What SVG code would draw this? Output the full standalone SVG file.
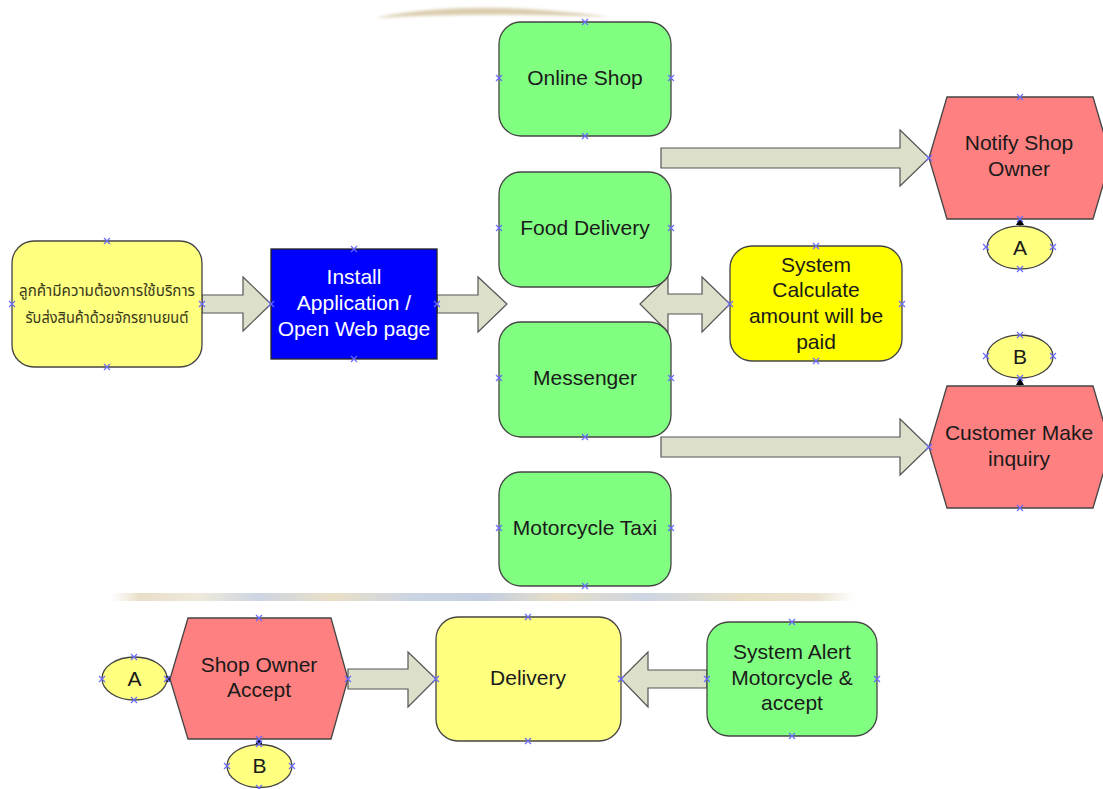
<svg xmlns="http://www.w3.org/2000/svg" width="1103" height="789" viewBox="0 0 1103 789">
  <defs>
    <style>
      .lbl { font-family: "Liberation Sans", Arial, sans-serif; font-size: 21px; fill: #1a1a1a; text-anchor: middle; }
      .thai { font-family: "Noto Sans Thai", "Noto Sans", "DejaVu Sans", sans-serif; font-size: 16.5px; fill: #3a3a1a; text-anchor: middle; }
      .white { fill: #ffffff; }
      .node { stroke: #444444; stroke-width: 1.3; }
      .green { fill: #80ff80; }
      .paleyellow { fill: #ffff80; }
      .yellow { fill: #ffff00; }
      .red { fill: #ff8080; }
      .blue { fill: #0000ff; stroke: #222222; stroke-width: 1.3; }
      .block { fill: #dcdfca; stroke: #555555; stroke-width: 1.2; }
      .pt { stroke: #6a6aff; stroke-width: 1.2; fill: none; }
    </style>
    <!-- one cross mark for each connection point -->
    <path id="x" d="M-3,-3 L3,3 M-3,3 L3,-3" class="pt"/>
    <marker id="tip" markerWidth="8" markerHeight="8" refX="6" refY="4" orient="auto" markerUnits="userSpaceOnUse">
      <path d="M0,0 L7,4 L0,8 Z" fill="#000"/>
    </marker>
    <linearGradient id="band" x1="0" y1="0" x2="1" y2="0">
      <stop offset="0" stop-color="#e6dcc4" stop-opacity="0"/>
      <stop offset="0.04" stop-color="#ddd0b0"/>
      <stop offset="0.12" stop-color="#e8e0cc"/>
      <stop offset="0.2" stop-color="#b7c3d6"/>
      <stop offset="0.3" stop-color="#e0d2ae"/>
      <stop offset="0.4" stop-color="#b7c3d6"/>
      <stop offset="0.5" stop-color="#a9b9d4"/>
      <stop offset="0.6" stop-color="#ddd0b0"/>
      <stop offset="0.72" stop-color="#b7c3d6"/>
      <stop offset="0.85" stop-color="#e0d2ae"/>
      <stop offset="0.95" stop-color="#e2d7bd"/>
      <stop offset="1" stop-color="#e6dcc4" stop-opacity="0"/>
    </linearGradient>
    <filter id="soft" x="-20%" y="-50%" width="140%" height="200%">
      <feGaussianBlur stdDeviation="1.5"/>
    </filter>
  </defs>

  <rect width="1103" height="789" fill="#ffffff"/>

  <!-- faint background emblem traces -->
  <path d="M375,18 Q470,-2 610,17 Q480,12 375,18 Z" fill="#d4c4a0" opacity="0.85" filter="url(#soft)"/>
  <rect x="110" y="593" width="745" height="8" fill="url(#band)" opacity="0.7"/>

  <!-- connectors -->
  <g id="connectors">
    <polygon class="block" points="202,295 243,295 243,277 271,304 243,331 243,313 202,313"/>
    <polygon class="block" points="437,295 478,295 478,277 507,304 478,332 478,313 437,313"/>
    <polygon class="block" points="640,304 668,277 668,294 702,294 702,277 730,304 702,332 702,314 668,314 668,332"/>
    <polygon class="block" points="661,148 900,148 900,130 929,158 900,186 900,168 661,168"/>
    <polygon class="block" points="661,437 900,437 900,419 929,447 900,475 900,457 661,457"/>
    <polygon class="block" points="348,669 408,669 408,652 436,679 408,707 408,689 348,689"/>
    <polygon class="block" points="707,670 648,670 648,652 621,679 648,707 648,688 707,688"/>
    <line x1="1020" y1="228" x2="1020" y2="219" stroke="#000" stroke-width="1" marker-end="url(#tip)"/>
    <line x1="1020" y1="388" x2="1020" y2="379" stroke="#000" stroke-width="1" marker-end="url(#tip)"/>
    <line x1="163" y1="679" x2="172" y2="679" stroke="#000" stroke-width="1" marker-end="url(#tip)"/>
    <line x1="259" y1="748" x2="259" y2="739" stroke="#000" stroke-width="1" marker-end="url(#tip)"/>
  </g>

  <g id="customer-need">
    <rect class="node paleyellow" x="12" y="241" width="190" height="126" rx="22"/>
    <text class="thai" x="107" y="296" textLength="176" lengthAdjust="spacingAndGlyphs">ลูกค้ามีความต้องการใช้บริการ</text>
    <text class="thai" x="107" y="323" textLength="163" lengthAdjust="spacingAndGlyphs">รับส่งสินค้าด้วยจักรยานยนต์</text>
    <use href="#x" x="107" y="241"/><use href="#x" x="12" y="304"/><use href="#x" x="202" y="304"/><use href="#x" x="107" y="367"/>
  </g>

  <g id="install-app">
    <rect class="blue" x="271" y="249" width="166" height="110"/>
    <text class="lbl white" x="354" y="284">Install</text>
    <text class="lbl white" x="354" y="310">Application /</text>
    <text class="lbl white" x="354" y="336">Open Web page</text>
    <use href="#x" x="354" y="249"/><use href="#x" x="271" y="304"/><use href="#x" x="437" y="304"/><use href="#x" x="354" y="359"/>
  </g>

  <g id="online-shop">
    <rect class="node green" x="499" y="22" width="172" height="114" rx="22"/>
    <text class="lbl" x="585" y="85">Online Shop</text>
    <use href="#x" x="585" y="22"/><use href="#x" x="499" y="78"/><use href="#x" x="671" y="78"/><use href="#x" x="585" y="136"/>
  </g>

  <g id="food-delivery">
    <rect class="node green" x="499" y="172" width="172" height="115" rx="22"/>
    <text class="lbl" x="585" y="235">Food Delivery</text>
    <use href="#x" x="499" y="228"/><use href="#x" x="671" y="228"/>
  </g>

  <g id="messenger">
    <rect class="node green" x="499" y="322" width="172" height="115" rx="22"/>
    <text class="lbl" x="585" y="385">Messenger</text>
    <use href="#x" x="499" y="378"/><use href="#x" x="671" y="378"/><use href="#x" x="585" y="437"/>
  </g>

  <g id="motorcycle-taxi">
    <rect class="node green" x="499" y="472" width="172" height="114" rx="22"/>
    <text class="lbl" x="585" y="535">Motorcycle Taxi</text>
    <use href="#x" x="499" y="528"/><use href="#x" x="671" y="528"/><use href="#x" x="585" y="586"/>
  </g>

  <g id="system-calculate">
    <rect class="node yellow" x="730" y="246" width="172" height="115" rx="22"/>
    <text class="lbl" x="816" y="272">System</text>
    <text class="lbl" x="816" y="297">Calculate</text>
    <text class="lbl" x="816" y="323">amount will be</text>
    <text class="lbl" x="816" y="349">paid</text>
    <use href="#x" x="816" y="246"/><use href="#x" x="730" y="304"/><use href="#x" x="902" y="304"/><use href="#x" x="816" y="361"/>
  </g>

  <g id="notify-shop-owner">
    <polygon class="node red" points="929,158 947,97 1093,97 1111,158 1093,219 947,219"/>
    <text class="lbl" x="1019" y="150">Notify Shop</text>
    <text class="lbl" x="1019" y="176">Owner</text>
    <use href="#x" x="1020" y="97"/><use href="#x" x="929" y="158"/><use href="#x" x="1020" y="219"/>
  </g>

  <g id="link-a-top">
    <ellipse class="node paleyellow" cx="1020" cy="247.5" rx="33" ry="21.5"/>
    <text class="lbl" x="1020" y="255">A</text>
    <use href="#x" x="986" y="247"/><use href="#x" x="1053" y="247"/><use href="#x" x="1020" y="269"/>
  </g>

  <g id="link-b-top">
    <ellipse class="node paleyellow" cx="1020" cy="356.5" rx="33" ry="21.5"/>
    <text class="lbl" x="1020" y="364">B</text>
    <use href="#x" x="1020" y="335"/><use href="#x" x="986" y="356"/><use href="#x" x="1053" y="356"/><use href="#x" x="1020" y="378"/>
  </g>

  <g id="customer-inquiry">
    <polygon class="node red" points="929,447 947,386 1093,386 1111,447 1093,508 947,508"/>
    <text class="lbl" x="1019" y="440">Customer Make</text>
    <text class="lbl" x="1019" y="466">inquiry</text>
    <use href="#x" x="929" y="447"/><use href="#x" x="1020" y="508"/>
  </g>

  <g id="shop-owner-accept">
    <polygon class="node red" points="170,679 188,618 331,618 348,679 331,739 188,739"/>
    <text class="lbl" x="259" y="672">Shop Owner</text>
    <text class="lbl" x="259" y="697">Accept</text>
    <use href="#x" x="259" y="618"/><use href="#x" x="348" y="679"/><use href="#x" x="259" y="739"/>
  </g>

  <g id="link-a-bottom">
    <ellipse class="node paleyellow" cx="134.5" cy="678.5" rx="32.5" ry="21.5"/>
    <text class="lbl" x="134.5" y="686">A</text>
    <use href="#x" x="134" y="657"/><use href="#x" x="102" y="679"/><use href="#x" x="167" y="679"/><use href="#x" x="134" y="700"/>
  </g>

  <g id="link-b-bottom">
    <ellipse class="node paleyellow" cx="259.5" cy="766" rx="32.5" ry="21.5"/>
    <text class="lbl" x="259.5" y="773">B</text>
    <use href="#x" x="259" y="744"/><use href="#x" x="227" y="766"/><use href="#x" x="292" y="766"/><use href="#x" x="259" y="788"/>
  </g>

  <g id="delivery">
    <rect class="node paleyellow" x="436" y="617" width="185" height="124" rx="22"/>
    <text class="lbl" x="528" y="685">Delivery</text>
    <use href="#x" x="528" y="617"/><use href="#x" x="436" y="679"/><use href="#x" x="621" y="679"/><use href="#x" x="528" y="741"/>
  </g>

  <g id="system-alert">
    <rect class="node green" x="707" y="622" width="170" height="114" rx="22"/>
    <text class="lbl" x="792" y="659">System Alert</text>
    <text class="lbl" x="792" y="685">Motorcycle &amp;</text>
    <text class="lbl" x="792" y="710">accept</text>
    <use href="#x" x="792" y="622"/><use href="#x" x="707" y="679"/><use href="#x" x="877" y="679"/><use href="#x" x="792" y="736"/>
  </g>
</svg>
